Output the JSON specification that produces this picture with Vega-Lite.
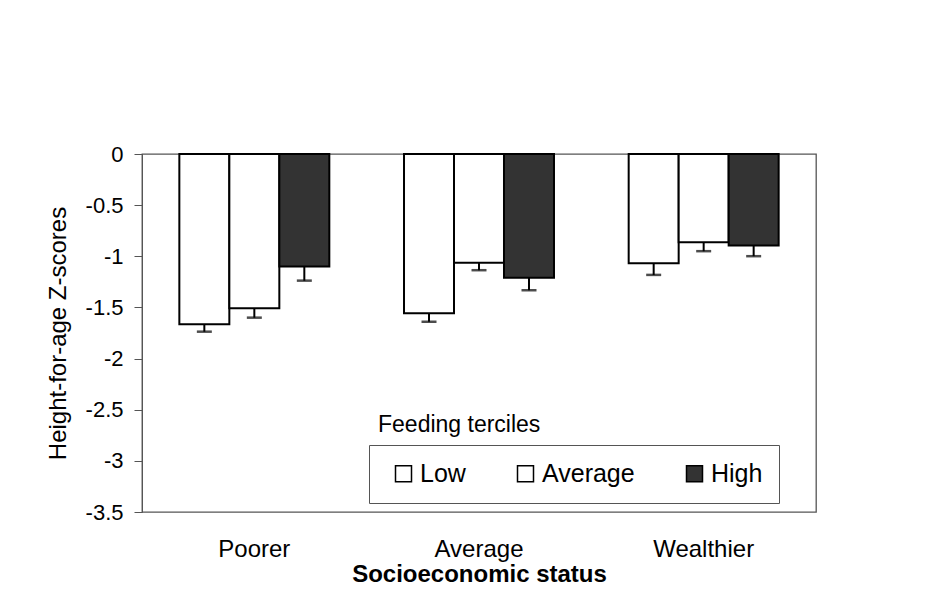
{
  "$schema": "https://vega.github.io/schema/vega-lite/v6.json",
  "width": 674,
  "height": 358,
  "autosize": {"type": "none"},
  "padding": {"left": 142, "top": 154, "right": 135, "bottom": 94},
  "background": "white",
  "data": {
    "values": [
      {"ses": "Poorer", "tercile": "Low", "z": -1.665, "lo": -1.737},
      {"ses": "Poorer", "tercile": "Average", "z": -1.508, "lo": -1.6},
      {"ses": "Poorer", "tercile": "High", "z": -1.1, "lo": -1.238},
      {"ses": "Average", "tercile": "Low", "z": -1.557, "lo": -1.64},
      {"ses": "Average", "tercile": "Average", "z": -1.062, "lo": -1.136},
      {"ses": "Average", "tercile": "High", "z": -1.209, "lo": -1.332},
      {"ses": "Wealthier", "tercile": "Low", "z": -1.068, "lo": -1.182},
      {"ses": "Wealthier", "tercile": "Average", "z": -0.862, "lo": -0.95},
      {"ses": "Wealthier", "tercile": "High", "z": -0.895, "lo": -0.999}
    ]
  },
  "layer": [
    {
      "mark": {"type": "bar", "stroke": "black", "strokeWidth": 2},
      "encoding": {
        "x": {
          "field": "ses", "type": "nominal", "sort": ["Poorer", "Average", "Wealthier"],
          "scale": {"paddingInner": 0, "paddingOuter": 0},
          "axis": {
            "orient": "bottom", "title": "Socioeconomic status", "domain": false, "ticks": false,
            "labelAngle": 0, "labelPadding": 25, "labelFontSize": 24, "titleFontSize": 24,
            "titleFontWeight": "bold", "titlePadding": 1
          }
        },
        "xOffset": {
          "field": "tercile", "type": "nominal", "sort": ["Low", "Average", "High"],
          "scale": {"paddingOuter": 0.747, "paddingInner": 0}
        },
        "y": {
          "field": "z", "type": "quantitative",
          "scale": {"domain": [-3.5, 0], "nice": false, "zero": false},
          "axis": {
            "title": "Height-for-age Z-scores",
            "values": [0, -0.5, -1, -1.5, -2, -2.5, -3, -3.5],
            "grid": false, "tickSize": 8, "labelPadding": 11, "labelFontSize": 22,
            "titleFontSize": 24, "titleFontWeight": "normal", "titlePadding": 15,
            "labelExpr": "datum.value < 0 ? '-' + format(-datum.value, '~g') : '0'",
            "domainColor": "#555", "tickColor": "#555"
          }
        },
        "fill": {
          "field": "tercile", "type": "nominal",
          "scale": {"domain": ["Low", "Average", "High"], "range": ["white", "white", "#333333"]},
          "legend": {
            "title": null, "orient": "none", "legendX": 227, "legendY": 291,
            "direction": "horizontal", "columns": 3, "strokeColor": "#555", "padding": 16,
            "symbolOffset": 6, "columnPadding": 41, "labelOffset": 4, "labelFontSize": 25,
            "labelColor": "black", "symbolType": "square", "symbolSize": 256,
            "symbolStrokeColor": "black", "symbolStrokeWidth": 1.5
          }
        }
      }
    },
    {
      "mark": {"type": "rule", "color": "black", "strokeWidth": 2},
      "encoding": {
        "x": {"field": "ses", "type": "nominal", "sort": ["Poorer", "Average", "Wealthier"]},
        "xOffset": {"field": "tercile", "type": "nominal", "sort": ["Low", "Average", "High"]},
        "y": {"field": "z", "type": "quantitative"},
        "y2": {"field": "lo"},
        "strokeDash": {
          "datum": "t", "type": "nominal",
          "scale": {"range": [[1, 0]]},
          "legend": {
            "title": "Feeding terciles", "orient": "none", "legendX": 236, "legendY": 260,
            "titleFontSize": 23, "titleFontWeight": "normal", "titleColor": "black",
            "labelExpr": "''", "symbolOpacity": 0, "padding": 0
          }
        }
      }
    },
    {
      "mark": {"type": "tick", "color": "black", "thickness": 2.5, "size": 15},
      "encoding": {
        "x": {"field": "ses", "type": "nominal", "sort": ["Poorer", "Average", "Wealthier"]},
        "xOffset": {"field": "tercile", "type": "nominal", "sort": ["Low", "Average", "High"]},
        "y": {"field": "lo", "type": "quantitative"}
      }
    }
  ],
  "config": {
    "font": "Liberation Sans",
    "view": {"stroke": "#555", "strokeWidth": 1.3},
    "axis": {"labelColor": "black", "titleColor": "black", "grid": false}
  }
}
